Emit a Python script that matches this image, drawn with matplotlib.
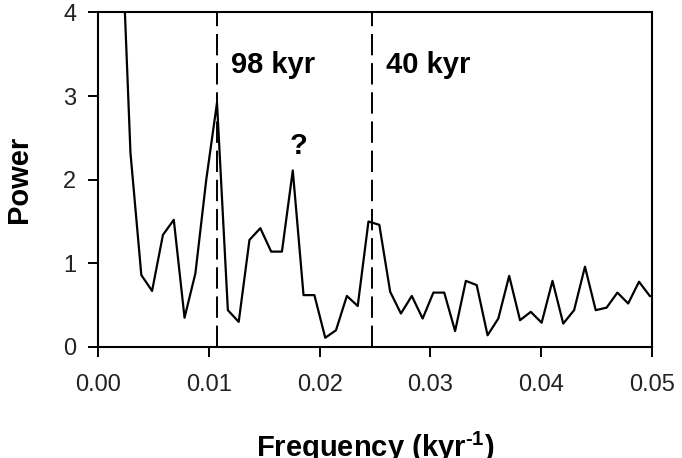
import matplotlib
matplotlib.use('Agg')
import matplotlib.pyplot as plt

plt.rcParams['font.family'] = ['Liberation Sans', 'DejaVu Sans']
plt.rcParams['mathtext.fontset'] = 'custom'
plt.rcParams['mathtext.bf'] = 'Liberation Sans:bold'
plt.rcParams['mathtext.rm'] = 'Liberation Sans:bold'

# spectrum (frequency in kyr^-1)
freq = [0.00195, 0.00293, 0.00391, 0.00488, 0.00586, 0.00684, 0.00781, 0.00879,
        0.00977, 0.01074, 0.01172, 0.01270, 0.01367, 0.01465, 0.01563, 0.01660,
        0.01758, 0.01855, 0.01953, 0.02051, 0.02148, 0.02246, 0.02344, 0.02441,
        0.02539, 0.02637, 0.02734, 0.02832, 0.02930, 0.03027, 0.03125, 0.03223,
        0.03320, 0.03418, 0.03516, 0.03613, 0.03711, 0.03809, 0.03906, 0.04004,
        0.04102, 0.04199, 0.04297, 0.04395, 0.04492, 0.04590, 0.04688, 0.04785,
        0.04883, 0.04980, 0.05078]
power = [5.6, 2.32, 0.86, 0.67, 1.34, 1.52, 0.35, 0.88,
         2.0, 2.92, 0.44, 0.30, 1.28, 1.42, 1.14, 1.14,
         2.11, 0.62, 0.62, 0.11, 0.20, 0.61, 0.49, 1.50,
         1.46, 0.66, 0.40, 0.61, 0.34, 0.65, 0.65, 0.19,
         0.79, 0.74, 0.14, 0.34, 0.85, 0.32, 0.42, 0.29,
         0.79, 0.28, 0.44, 0.96, 0.44, 0.47, 0.65, 0.52,
         0.78, 0.61, 0.58]

# cycle markers
cycle_freq = [0.0107, 0.0247]
cycle_label = ['98 kyr', '40 kyr']

xticks = [0.00, 0.01, 0.02, 0.03, 0.04, 0.05]
yticks = [0, 1, 2, 3, 4]

fig = plt.figure(figsize=(6.82, 4.58), dpi=100)
ax = fig.add_axes([0.1437, 0.2424, 0.8123, 0.7306])

ax.plot(freq, power, color='black', lw=1.6)
for f, lab in zip(cycle_freq, cycle_label):
    ax.axvline(f, color='black', lw=1.4, dashes=(11, 4))
    ax.text(f + 0.0013, 3.37, lab, fontsize=21, fontweight='bold', va='center')
ax.text(0.0181, 2.40, '?', fontsize=21, fontweight='bold', ha='center', va='center')

ax.set_xlim(0, 0.05)
ax.set_ylim(0, 4)
ax.set_xticks(xticks)
ax.set_xticklabels(['%.2f' % t for t in xticks])
ax.set_yticks(yticks)
ax.tick_params(direction='out', length=7.5, width=1.4, labelsize=17,
               labelcolor='#222222')
ax.tick_params(axis='x', pad=12)
ax.tick_params(axis='y', pad=8)
for s in ax.spines.values():
    s.set_linewidth(1.5)

ax.set_xlabel(r'Frequency (kyr$^{\text{-1}}$)', fontsize=21, fontweight='bold', labelpad=24)
ax.set_ylabel('Power', fontsize=21, fontweight='bold', labelpad=22)

fig.savefig('out.png', dpi=100)
